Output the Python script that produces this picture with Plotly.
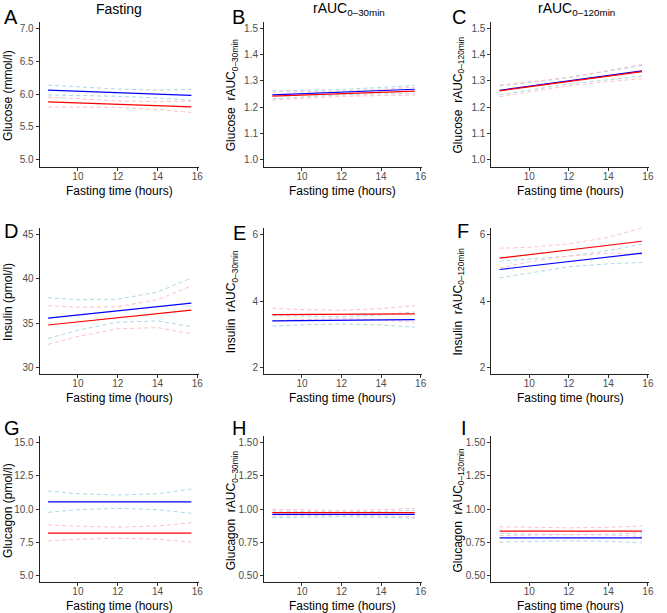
import plotly.graph_objects as go

W, H = 667, 613

# ---------------- data ----------------
fasting_time = [8.5, 10, 12, 14, 15.7]

# A: Glucose fasting (mmol/l)
A_blue = [6.06, 6.045, 6.02, 6.00, 5.98]
A_blue_hi = [6.135, 6.11, 6.075, 6.06, 6.07]
A_blue_lo = [5.985, 5.98, 5.965, 5.94, 5.905]
A_red = [5.88, 5.865, 5.845, 5.825, 5.805]
A_red_hi = [5.955, 5.925, 5.895, 5.885, 5.89]
A_red_lo = [5.805, 5.805, 5.795, 5.765, 5.72]

# B: Glucose rAUC 0-30 min
B_blue = [1.247, 1.251, 1.257, 1.263, 1.268]
B_blue_hi = [1.262, 1.263, 1.267, 1.275, 1.283]
B_blue_lo = [1.232, 1.239, 1.247, 1.251, 1.253]
B_red = [1.242, 1.246, 1.251, 1.256, 1.261]
B_red_hi = [1.257, 1.258, 1.261, 1.268, 1.276]
B_red_lo = [1.227, 1.234, 1.241, 1.244, 1.246]

# C: Glucose rAUC 0-120 min
C_blue = [1.264, 1.279, 1.300, 1.320, 1.338]
C_blue_hi = [1.281, 1.293, 1.312, 1.336, 1.358]
C_blue_lo = [1.247, 1.265, 1.288, 1.304, 1.318]
C_red = [1.262, 1.277, 1.297, 1.318, 1.335]
C_red_hi = [1.284, 1.297, 1.313, 1.339, 1.362]
C_red_lo = [1.240, 1.257, 1.281, 1.297, 1.308]

# D: Insulin fasting (pmol/l)
D_blue = [35.57, 35.92, 36.40, 36.87, 37.27]
D_blue_hi = [37.87, 37.65, 37.70, 38.50, 40.10]
D_blue_lo = [33.27, 34.20, 35.10, 35.25, 34.60]
D_red = [34.79, 35.14, 35.61, 36.08, 36.48]
D_red_hi = [36.97, 36.80, 36.85, 37.65, 39.20]
D_red_lo = [32.60, 33.50, 34.35, 34.50, 33.80]

# E: Insulin rAUC 0-30 min
E_blue = [3.40, 3.41, 3.42, 3.43, 3.44]
E_blue_hi = [3.56, 3.54, 3.53, 3.58, 3.67]
E_blue_lo = [3.24, 3.28, 3.31, 3.28, 3.21]
E_red = [3.59, 3.59, 3.60, 3.60, 3.61]
E_red_hi = [3.78, 3.74, 3.72, 3.77, 3.86]
E_red_lo = [3.40, 3.44, 3.48, 3.43, 3.36]

# F: Insulin rAUC 0-120 min
F_blue = [4.95, 5.05, 5.19, 5.32, 5.44]
F_blue_hi = [5.20, 5.26, 5.35, 5.52, 5.72]
F_blue_lo = [4.70, 4.84, 5.03, 5.12, 5.16]
F_red = [5.29, 5.40, 5.54, 5.68, 5.80]
F_red_hi = [5.59, 5.62, 5.72, 5.92, 6.20]
F_red_lo = [4.99, 5.18, 5.36, 5.44, 5.40]

# G: Glucagon fasting (pmol/l)
G_blue = [10.53, 10.53, 10.53, 10.53, 10.53]
G_blue_hi = [11.35, 11.15, 11.05, 11.15, 11.50]
G_blue_lo = [9.75, 9.95, 10.05, 9.95, 9.68]
G_red = [8.18, 8.18, 8.18, 8.18, 8.18]
G_red_hi = [8.80, 8.70, 8.63, 8.72, 8.97]
G_red_lo = [7.60, 7.72, 7.80, 7.73, 7.50]

# H: Glucagon rAUC 0-30 min
H_blue = [0.960, 0.960, 0.960, 0.960, 0.960]
H_blue_hi = [0.985, 0.981, 0.978, 0.982, 0.990]
H_blue_lo = [0.935, 0.939, 0.942, 0.938, 0.930]
H_red = [0.972, 0.972, 0.972, 0.972, 0.972]
H_red_hi = [0.997, 0.993, 0.990, 0.995, 1.005]
H_red_lo = [0.947, 0.951, 0.954, 0.950, 0.940]

# I: Glucagon rAUC 0-120 min
I_blue = [0.783, 0.783, 0.783, 0.783, 0.783]
I_blue_hi = [0.815, 0.810, 0.806, 0.810, 0.820]
I_blue_lo = [0.751, 0.756, 0.760, 0.756, 0.745]
I_red = [0.833, 0.833, 0.833, 0.833, 0.833]
I_red_hi = [0.866, 0.862, 0.858, 0.862, 0.872]
I_red_lo = [0.800, 0.804, 0.808, 0.804, 0.794]

x_ticks = [10, 12, 14, 16]
panel_letters = ["A", "B", "C", "D", "E", "F", "G", "H", "I"]
col_titles = ["Fasting", "rAUC<sub>0–30min</sub>", "rAUC<sub>0–120min</sub>"]
y_titles = [
    "Glucose (mmol/l)", "Glucose  rAUC<sub>0–30min</sub>", "Glucose  rAUC<sub>0–120min</sub>",
    "Insulin (pmol/l)", "Insulin  rAUC<sub>0–30min</sub>", "Insulin  rAUC<sub>0–120min</sub>",
    "Glucagon (pmol/l)", "Glucagon  rAUC<sub>0–30min</sub>", "Glucagon  rAUC<sub>0–120min</sub>",
]
y_ticks = [
    [5.0, 5.5, 6.0, 6.5, 7.0], [1.0, 1.1, 1.2, 1.3, 1.4, 1.5], [1.0, 1.1, 1.2, 1.3, 1.4, 1.5],
    [30, 35, 40, 45], [2, 4, 6], [2, 4, 6],
    [5.0, 7.5, 10.0, 12.5, 15.0], [0.50, 0.75, 1.00, 1.25, 1.50], [0.50, 0.75, 1.00, 1.25, 1.50],
]
y_fmt = [".1f", ".1f", ".1f", "d", "d", "d", ".1f", ".2f", ".2f"]

panels = [
    (A_blue, A_blue_hi, A_blue_lo, A_red, A_red_hi, A_red_lo),
    (B_blue, B_blue_hi, B_blue_lo, B_red, B_red_hi, B_red_lo),
    (C_blue, C_blue_hi, C_blue_lo, C_red, C_red_hi, C_red_lo),
    (D_blue, D_blue_hi, D_blue_lo, D_red, D_red_hi, D_red_lo),
    (E_blue, E_blue_hi, E_blue_lo, E_red, E_red_hi, E_red_lo),
    (F_blue, F_blue_hi, F_blue_lo, F_red, F_red_hi, F_red_lo),
    (G_blue, G_blue_hi, G_blue_lo, G_red, G_red_hi, G_red_lo),
    (H_blue, H_blue_hi, H_blue_lo, H_red, H_red_hi, H_red_lo),
    (I_blue, I_blue_hi, I_blue_lo, I_red, I_red_hi, I_red_lo),
]

# ---------------- layout geometry (pixels) ----------------
col_px = [(40, 200), (266, 425), (495, 654)]
row_px = [(21.5, 166.5), (228, 374), (436, 582)]
ytitle_x = [8, 234, 462]
xtitle_y = [191, 398, 606]
letter_pos = [(2, 17), (232, 17), (453, 17),
              (2, 231), (233, 233), (458, 231),
              (2, 428), (232, 428), (462, 428)]

FONT = "Liberation Sans, Arial, sans-serif"
BLUE, RED = "#0000FF", "#FF0000"
LBLUE, LPINK = "#ADD8E6", "#FFC0CB"


def px(x):
    return x / W


def py(y):
    return 1 - y / H


fig = go.Figure()
layout = dict(
    width=W, height=H, margin=dict(l=0, r=0, t=0, b=0),
    paper_bgcolor="white", plot_bgcolor="white", showlegend=False,
    font=dict(family=FONT, color="black"),
)
annotations = []

for i, (b, bh, bl, r, rh, rl) in enumerate(panels):
    row, col = divmod(i, 3)
    n = i + 1
    xa = "x" if n == 1 else f"x{n}"
    ya = "y" if n == 1 else f"y{n}"
    for vals, colr, dash, w in [
        (bh, LBLUE, "4px,3px", 1), (bl, LBLUE, "4px,3px", 1),
        (rh, LPINK, "4px,3px", 1), (rl, LPINK, "4px,3px", 1),
        (b, BLUE, "solid", 1.2), (r, RED, "solid", 1.2),
    ]:
        fig.add_trace(go.Scatter(x=fasting_time, y=vals, mode="lines", xaxis=xa, yaxis=ya,
                                 line=dict(color=colr, width=w, dash=dash), hoverinfo="skip"))
    yt = y_ticks[i]
    lo, hi = yt[0], yt[-1]
    pad = (hi - lo) * 0.05
    x0, x1 = col_px[col]
    ytop, ybot = row_px[row]
    axis_common = dict(showline=True, linecolor="#222222", linewidth=1, ticks="outside",
                       ticklen=3, tickcolor="#333333", tickwidth=1, showgrid=False,
                       zeroline=False, tickfont=dict(size=10, color="#4D4D4D", family=FONT))
    layout["xaxis" if n == 1 else f"xaxis{n}"] = dict(
        domain=[px(x0), px(x1)], range=[8.08, 16.06], anchor=ya, ticklabelstandoff=-3,
        tickvals=x_ticks, ticktext=[str(t) for t in x_ticks], **axis_common)
    layout["yaxis" if n == 1 else f"yaxis{n}"] = dict(
        domain=[py(ybot), py(ytop)], range=[lo - pad, hi + pad], anchor=xa,
        tickvals=yt, ticktext=[format(t, y_fmt[i]) for t in yt], **axis_common)

    # y title
    annotations.append(dict(text=y_titles[i], x=px(ytitle_x[col]), y=py((ytop + ybot) / 2 + 1),
                            xref="paper", yref="paper", showarrow=False, textangle=-90,
                            xanchor="center", yanchor="middle",
                            font=dict(size=12, color="black", family=FONT)))
    # x title
    annotations.append(dict(text="Fasting time (hours)", x=px((x0 + x1) / 2), y=py(xtitle_y[row]),
                            xref="paper", yref="paper", showarrow=False,
                            xanchor="center", yanchor="middle",
                            font=dict(size=12, color="black", family=FONT)))
    # panel letter
    lx, ly = letter_pos[i]
    annotations.append(dict(text=panel_letters[i], x=px(lx), y=py(ly), xref="paper", yref="paper",
                            showarrow=False, xanchor="left", yanchor="middle",
                            font=dict(size=20, color="black", family=FONT)))

title_x = [120, 352, 581]
for c in range(3):
    annotations.append(dict(text=col_titles[c], x=px(title_x[c]), y=py(9), xref="paper", yref="paper",
                            showarrow=False, xanchor="center", yanchor="middle",
                            font=dict(size=14, color="black", family=FONT)))

layout["annotations"] = annotations
fig.update_layout(**layout)
fig.write_html("out.html", config={"displayModeBar": False},
               post_script="document.body.style.margin='0';document.body.style.overflow='hidden';")
